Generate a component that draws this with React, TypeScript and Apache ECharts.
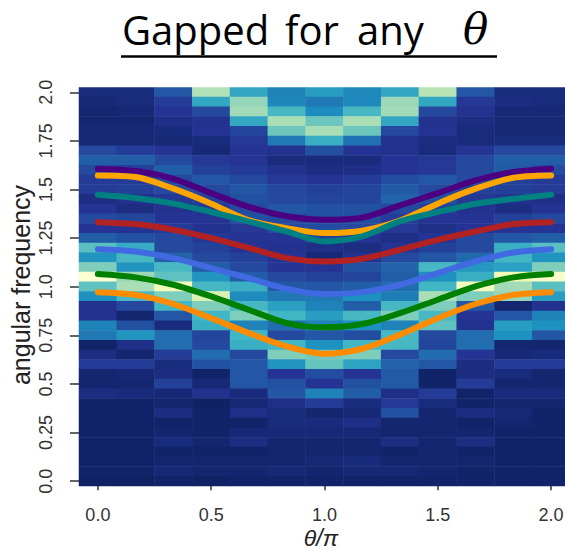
import React, { useEffect, useRef } from "react";
import * as echarts from "echarts";

const thetaCats = ["0.0", "0.17", "0.33", "0.5", "0.67", "0.83", "1.0", "1.17", "1.33", "1.5", "1.67", "1.83", "2.0"];
const freqCats = [
  "0.0", "0.05", "0.1", "0.15", "0.2", "0.25", "0.3", "0.35", "0.4", "0.45",
  "0.5", "0.55", "0.6", "0.65", "0.7", "0.75", "0.8", "0.85", "0.9", "0.95",
  "1.0", "1.05", "1.1", "1.15", "1.2", "1.25", "1.3", "1.35", "1.4", "1.45",
  "1.5", "1.55", "1.6", "1.65", "1.7", "1.75", "1.8", "1.85", "1.9", "1.95", "2.0",
];

// heatmap intensity rows, top (2.0) to bottom (0.0), 13 columns each
const intensityRows = [
  [0.6, 0.6, 1.8, 5.7, 3.6, 2.7, 3.3, 2.8, 3.6, 5.8, 1.8, 0.6, 0.6],
  [0.5, 0.6, 1.2, 3.6, 5.3, 2.8, 2.5, 2.8, 5.4, 3.6, 1.1, 0.7, 0.6],
  [0.4, 0.5, 1.0, 1.5, 5.5, 4.1, 2.9, 4.1, 5.5, 1.5, 0.9, 0.5, 0.5],
  [0.4, 0.4, 0.8, 0.9, 3.6, 5.6, 4.7, 5.6, 3.6, 0.9, 0.7, 0.5, 0.5],
  [0.5, 0.5, 0.6, 1.0, 1.4, 4.7, 5.6, 4.7, 1.5, 1.0, 0.6, 0.5, 0.5],
  [0.5, 0.5, 0.5, 0.6, 1.1, 2.5, 3.8, 2.4, 0.9, 0.7, 0.6, 0.6, 0.6],
  [1.5, 1.2, 1.0, 0.5, 1.0, 0.9, 1.7, 1.0, 0.9, 0.6, 1.0, 1.5, 1.5],
  [2.0, 2.0, 1.5, 1.1, 1.0, 0.6, 0.6, 0.6, 1.0, 1.1, 1.5, 2.0, 2.0],
  [1.5, 1.3, 2.0, 1.3, 1.2, 0.9, 0.7, 0.8, 1.0, 1.1, 1.5, 1.9, 1.6],
  [1.2, 1.2, 1.5, 1.8, 1.5, 1.1, 1.0, 1.2, 1.6, 1.8, 1.5, 1.3, 1.2],
  [1.2, 1.3, 1.5, 1.5, 1.8, 1.5, 1.3, 1.4, 1.9, 1.5, 1.3, 1.3, 1.2],
  [0.7, 0.9, 1.1, 1.3, 1.7, 1.5, 1.4, 1.4, 2.1, 1.7, 1.1, 0.9, 0.8],
  [1.0, 0.7, 0.9, 1.1, 1.5, 1.8, 1.7, 1.7, 1.5, 1.3, 0.9, 0.7, 1.0],
  [1.5, 1.4, 1.0, 1.0, 1.7, 1.5, 1.7, 1.6, 1.2, 1.0, 1.0, 1.3, 1.5],
  [1.0, 1.0, 1.2, 0.9, 1.1, 1.5, 1.6, 1.5, 1.1, 0.8, 1.0, 1.0, 1.0],
  [2.0, 1.7, 1.5, 1.1, 1.0, 1.0, 1.3, 1.0, 0.8, 1.0, 1.5, 1.8, 2.0],
  [4.4, 3.7, 1.5, 1.3, 1.0, 0.9, 0.8, 0.7, 1.0, 1.3, 1.5, 3.8, 4.4],
  [3.1, 4.1, 2.1, 1.5, 1.3, 1.0, 0.5, 0.9, 1.5, 1.8, 2.2, 4.0, 3.1],
  [5.0, 3.1, 4.1, 2.0, 1.5, 1.0, 1.0, 1.7, 2.1, 4.1, 3.2, 3.4, 5.0],
  [7.8, 5.4, 4.5, 3.1, 2.0, 1.5, 1.3, 1.4, 2.0, 3.0, 3.8, 7.2, 7.6],
  [4.5, 5.6, 7.3, 4.1, 3.8, 1.8, 1.8, 2.0, 2.3, 4.0, 7.3, 5.5, 4.4],
  [3.0, 4.1, 5.0, 6.5, 2.9, 2.5, 2.5, 3.0, 2.6, 5.6, 5.0, 5.3, 3.3],
  [0.9, 1.5, 4.0, 5.0, 4.1, 3.4, 2.7, 2.0, 4.1, 5.0, 1.8, 0.4, 0.9],
  [0.9, 0.4, 1.8, 4.0, 5.0, 4.0, 3.3, 4.1, 5.0, 4.1, 1.0, 1.8, 2.7],
  [2.7, 1.7, 0.6, 3.8, 2.7, 2.3, 2.7, 3.0, 2.7, 4.5, 0.9, 3.3, 3.0],
  [2.5, 3.1, 2.3, 1.4, 4.0, 1.5, 1.8, 1.6, 4.1, 1.5, 2.3, 3.0, 1.8],
  [0.3, 0.8, 2.3, 1.5, 3.8, 4.0, 3.0, 4.0, 4.1, 1.4, 2.3, 0.4, 0.4],
  [0.7, 0.4, 1.2, 2.3, 1.5, 5.0, 4.8, 5.0, 1.5, 2.3, 1.0, 0.5, 0.6],
  [1.2, 1.2, 0.6, 1.7, 1.8, 3.1, 4.6, 3.5, 2.1, 1.8, 0.7, 1.2, 1.2],
  [0.4, 0.5, 0.7, 0.3, 1.8, 1.0, 1.6, 1.0, 1.9, 0.3, 0.7, 0.6, 0.4],
  [0.4, 0.4, 1.3, 0.5, 1.8, 1.7, 1.0, 1.7, 1.9, 0.3, 1.2, 0.4, 0.4],
  [0.7, 0.6, 0.5, 0.9, 0.6, 1.8, 2.7, 2.0, 0.8, 1.2, 0.3, 0.6, 0.6],
  [0.3, 0.3, 0.4, 0.2, 0.5, 0.8, 1.2, 0.6, 1.1, 0.6, 0.3, 0.4, 0.4],
  [0.3, 0.3, 0.7, 0.3, 0.8, 0.6, 0.4, 0.5, 1.7, 0.4, 0.7, 0.5, 0.3],
  [0.3, 0.3, 0.3, 0.3, 0.3, 0.6, 0.6, 0.8, 0.4, 0.4, 0.3, 0.4, 0.3],
  [0.3, 0.3, 0.4, 0.3, 0.5, 0.5, 0.5, 0.5, 0.4, 0.4, 0.4, 0.3, 0.3],
  [0.3, 0.3, 0.6, 0.4, 0.7, 0.4, 0.4, 0.4, 0.7, 0.4, 0.7, 0.3, 0.3],
  [0.3, 0.3, 0.3, 0.3, 0.3, 0.4, 0.4, 0.4, 0.3, 0.4, 0.3, 0.3, 0.3],
  [0.3, 0.3, 0.4, 0.4, 0.4, 0.4, 0.5, 0.6, 0.4, 0.4, 0.4, 0.3, 0.3],
  [0.3, 0.3, 0.5, 0.4, 0.4, 0.5, 0.4, 0.5, 0.5, 0.4, 0.3, 0.3, 0.3],
  [0.2, 0.2, 0.3, 0.2, 0.3, 0.3, 0.3, 0.3, 0.3, 0.3, 0.3, 0.3, 0.3],
];

const bandPurple = [1.607, 1.595, 1.555, 1.481, 1.41, 1.362, 1.344, 1.355, 1.418, 1.481, 1.547, 1.59, 1.607];
const bandGold = [1.572, 1.564, 1.504, 1.427, 1.341, 1.301, 1.276, 1.288, 1.34, 1.427, 1.504, 1.56, 1.572];
const bandTeal = [1.473, 1.456, 1.427, 1.384, 1.335, 1.284, 1.233, 1.259, 1.336, 1.384, 1.427, 1.452, 1.473];
const bandRed = [1.332, 1.322, 1.293, 1.25, 1.199, 1.147, 1.13, 1.144, 1.19, 1.241, 1.284, 1.322, 1.332];
const bandBlue = [1.193, 1.181, 1.147, 1.096, 1.044, 0.989, 0.962, 0.972, 1.01, 1.07, 1.13, 1.176, 1.193];
const bandGreen = [1.065, 1.048, 1.01, 0.95, 0.881, 0.813, 0.791, 0.808, 0.864, 0.933, 1.002, 1.048, 1.065];
const bandOrange = [0.972, 0.958, 0.911, 0.838, 0.761, 0.693, 0.655, 0.681, 0.753, 0.838, 0.911, 0.958, 0.972];

const bands = [
  { data: bandPurple, color: "#4b0082" },
  { data: bandGold, color: "#ffa500" },
  { data: bandTeal, color: "#008080" },
  { data: bandRed, color: "#b22222" },
  { data: bandBlue, color: "#4169e1" },
  { data: bandGreen, color: "#008000" },
  { data: bandOrange, color: "#ff8c00" },
];

const titleWords = [
  { text: "Gapped", x: 122 },
  { text: "for", x: 285 },
  { text: "any", x: 357 },
];

const ylgnbu = ["#081d58", "#253494", "#225ea8", "#1d91c0", "#41b6c4", "#7fcdbb", "#c7e9b4", "#edf8b1", "#ffffd9"];

export default function App() {
  const ref = useRef<HTMLDivElement>(null);
  useEffect(() => {
    if (!ref.current) return;
    const chart = echarts.init(ref.current, null, { renderer: "svg" });
    const heat: number[][] = [];
    const nRows = intensityRows.length;
    intensityRows.forEach((row, r) => {
      row.forEach((v, c) => heat.push([c, nRows - 1 - r, v]));
    });
    const axisText = { color: "#333", fontSize: 18, fontFamily: "Liberation Sans, Arial, sans-serif" };
    const titleFont = "Open Sans";
    chart.setOption({
      animation: false,
      grid: {
        left: 79,
        top: 87.4,
        width: 491,
        height: 398.6,
        containLabel: false,
        outerBoundsMode: "none",
      },
      visualMap: { show: false, type: "continuous", min: 0, max: 8, seriesIndex: 0, inRange: { color: ylgnbu } },
      xAxis: [
        {
          type: "category",
          data: thetaCats,
          offset: 2,
          axisLine: { show: false },
          axisTick: {
            show: true,
            alignWithLabel: true,
            interval: (i: number) => i % 3 === 0,
            length: 9,
            lineStyle: { color: "#333", width: 1.5 },
          },
          axisLabel: { ...axisText, margin: 18, interval: (i: number) => i % 3 === 0 },
          splitLine: { show: false },
        },
      ],
      yAxis: [
        {
          type: "category",
          data: freqCats,
          axisLine: { show: false },
          axisTick: {
            show: true,
            alignWithLabel: true,
            interval: (i: number) => i % 5 === 0,
            length: 9,
            lineStyle: { color: "#333", width: 1.5 },
          },
          axisLabel: { ...axisText, rotate: 90, margin: 24, interval: (i: number) => i % 5 === 0 },
          splitLine: { show: false },
        },
        { type: "value", min: -0.025, max: 2.025, show: false, splitLine: { show: false } },
      ],
      graphic: [
        ...titleWords.map((w) => ({
          type: "text",
          x: w.x,
          y: 29,
          style: {
            text: w.text,
            align: "left",
            verticalAlign: "middle",
            fontSize: 40,
            fontFamily: titleFont,
            fill: "#000",
          },
        })),
        {
          type: "text",
          x: 463,
          y: 29,
          style: {
            text: "θ",
            align: "left",
            verticalAlign: "middle",
            fontSize: 42,
            fontStyle: "italic",
            fontFamily: "DejaVu Serif",
            fill: "#000",
          },
        },
        { type: "line", shape: { x1: 121, y1: 56.5, x2: 497, y2: 56.5 }, style: { stroke: "#000", lineWidth: 2.5 } },
        {
          type: "text",
          x: 21,
          y: 285,
          rotation: Math.PI / 2,
          style: {
            text: "angular frequency",
            align: "center",
            verticalAlign: "middle",
            fontSize: 25,
            fontFamily: "Liberation Sans, Arial, sans-serif",
            fill: "#222",
          },
        },
        {
          type: "text",
          x: 321,
          y: 538,
          style: {
            text: "θ/π",
            align: "center",
            verticalAlign: "middle",
            fontSize: 23,
            fontStyle: "italic",
            fontFamily: "Liberation Sans, Arial, sans-serif",
            fill: "#222",
          },
        },
      ],
      series: [
        {
          type: "heatmap",
          data: heat,
          xAxisIndex: 0,
          yAxisIndex: 0,
          itemStyle: { borderWidth: 0 },
          emphasis: { disabled: true },
        },
        ...bands.map((b) => ({
          type: "line",
          xAxisIndex: 0,
          yAxisIndex: 1,
          data: b.data,
          smooth: 0.3,
          symbol: "none",
          lineStyle: { color: b.color, width: 6, cap: "round", join: "round" },
          z: 5,
        })),
      ],
    });
    return () => chart.dispose();
  }, []);
  return <div ref={ref} style={{ position: "absolute", left: 0, top: 0, width: 565, height: 550 }} />;
}
